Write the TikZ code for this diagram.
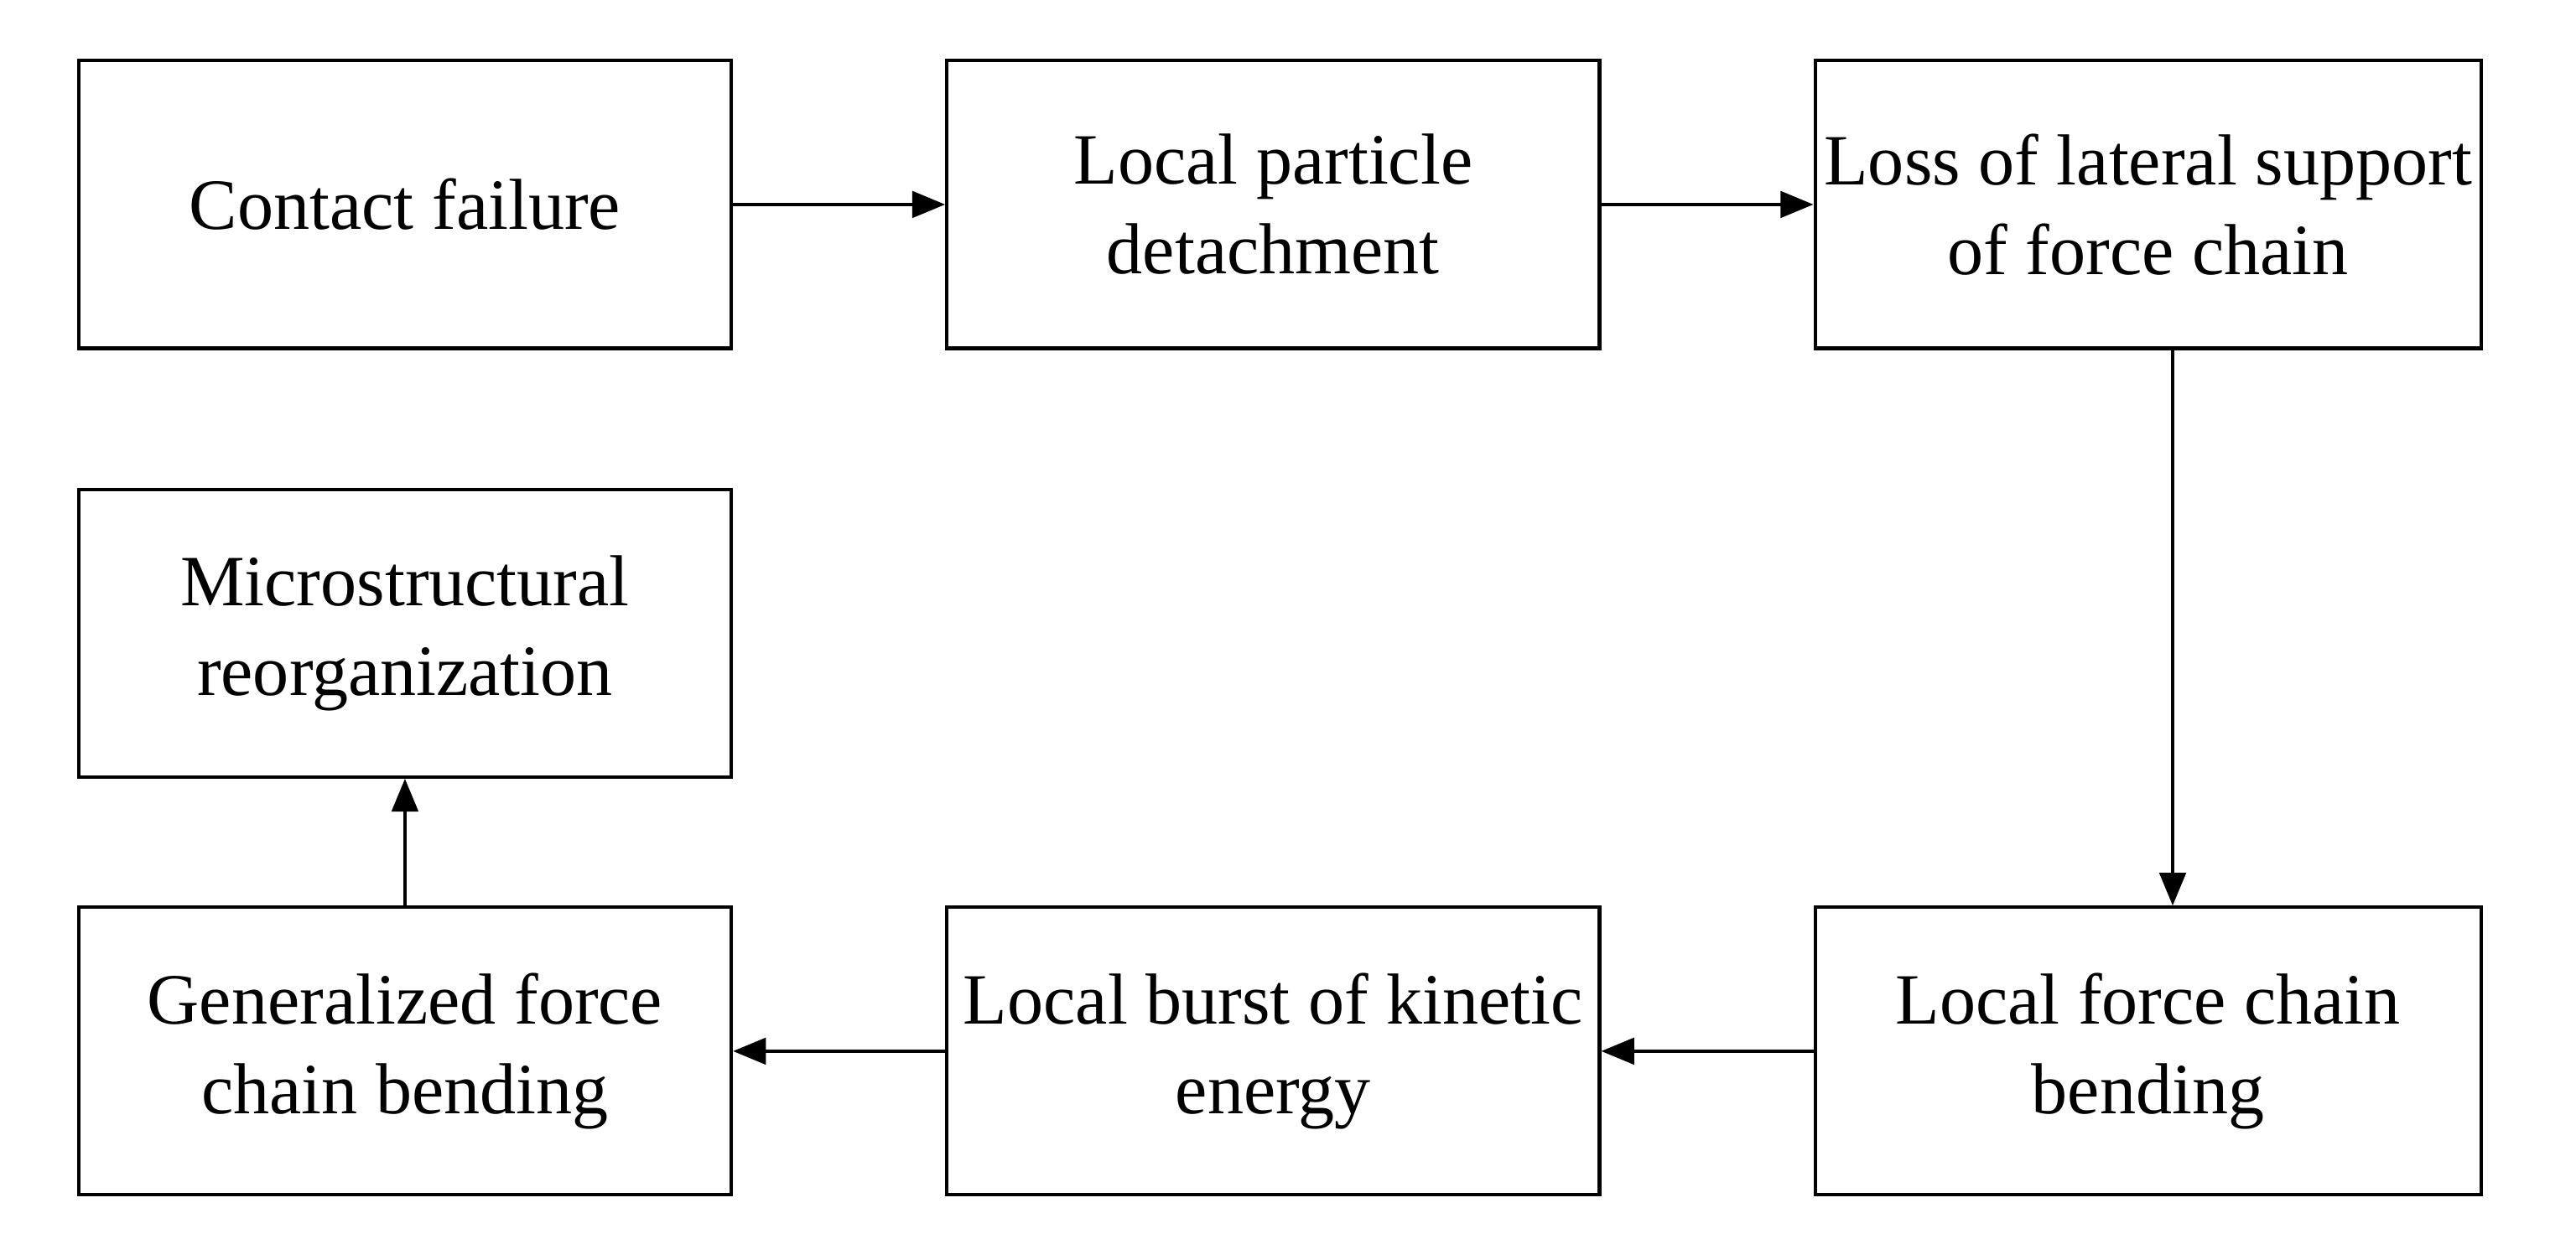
\documentclass[tikz,border=0pt]{standalone}
\usepackage{fontspec}
\setmainfont{Liberation Serif}
\usetikzlibrary{arrows.meta}
\begin{document}
\begin{tikzpicture}[x=0.01cm,y=-0.01cm,
 box/.style={draw,line width=0.6pt,minimum width=3.97cm,minimum height=1.75cm,align=center,inner sep=0pt,font=\fontsize{12.5}{15.5}\selectfont},
 arr/.style={line width=0.6pt,-{Triangle[length=2mm,width=1.6mm]}}]
\useasboundingbox (0,0) rectangle (1568,751);
\node[box] (a) at (246.5,124.5) {Contact failure};
\node[box] (b) at (775,124.5) {Local particle\\detachment};
\node[box,minimum width=4.05cm] (c) at (1307.5,124.5) {Loss of lateral support\\of force chain};
\node[box] (m) at (246.5,385.5) {Microstructural\\reorganization};
\node[box] (g) at (246.5,640) {Generalized force\\chain bending};
\node[box] (k) at (775,640) {Local burst of kinetic\\energy};
\node[box,minimum width=4.05cm] (l) at (1307.5,640) {Local force chain\\bending};
\draw[arr] (a) -- (b);
\draw[arr] (b) -- (c);
\draw[arr] ([xshift=0.15cm]c.south) -- ([xshift=0.15cm]l.north);
\draw[arr] (l) -- (k);
\draw[arr] (k) -- (g);
\draw[arr] (g) -- (m);
\end{tikzpicture}
\end{document}
